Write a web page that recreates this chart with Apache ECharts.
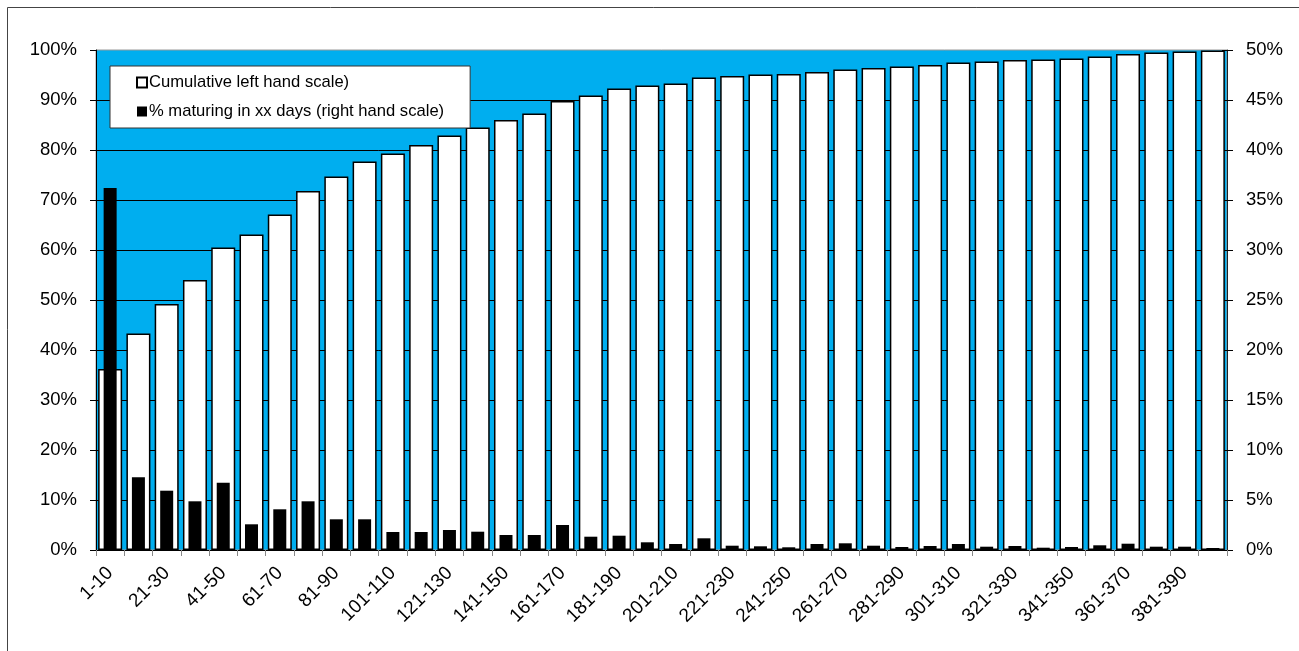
<!DOCTYPE html>
<html>
<head>
<meta charset="utf-8">
<script src="https://cdn.jsdelivr.net/npm/echarts@6/dist/echarts.min.js"></script>
<style>
html,body{margin:0;padding:0;background:#fff;}
#chart{width:1299px;height:651px;}
</style>
</head>
<body>
<div id="chart"></div>
<script>
const categories = ['1-10','11-20','21-30','31-40','41-50','51-60','61-70','71-80','81-90','91-100',
  '101-110','111-120','121-130','131-140','141-150','151-160','161-170','171-180','181-190','191-200',
  '201-210','211-220','221-230','231-240','241-250','251-260','261-270','271-280','281-290','291-300',
  '301-310','311-320','321-330','331-340','341-350','351-360','361-370','371-380','381-390','391-400'];
const cumulative = [36.2,43.3,49.2,54.0,60.5,63.1,67.1,71.8,74.7,77.7,
  79.3,81.0,82.9,84.5,86.0,87.3,89.8,90.9,92.3,92.9,
  93.3,94.5,94.8,95.1,95.2,95.6,96.1,96.4,96.7,97.0,
  97.5,97.7,98.0,98.1,98.3,98.7,99.2,99.5,99.7,99.9];
const maturing = [36.2,7.27,5.93,4.87,6.73,2.57,4.07,4.87,3.07,3.07,
  1.8,1.8,2.0,1.83,1.5,1.5,2.5,1.33,1.43,0.77,
  0.6,1.17,0.43,0.37,0.27,0.6,0.67,0.43,0.3,0.4,
  0.6,0.33,0.4,0.23,0.3,0.47,0.63,0.33,0.33,0.2];
const leftTicks = {min:0, max:100, interval:10};
const rightTicks = {min:0, max:50, interval:5};

const chart = echarts.init(document.getElementById('chart'), null, {renderer:'canvas'});
const font = 'Liberation Sans, Arial, sans-serif';
chart.setOption({
  animation:false,
  backgroundColor:'#fff',
  graphic:[{type:'rect', shape:{x:7.5,y:7.5,width:1400,height:700}, style:{fill:'none',stroke:'#444',lineWidth:1}, silent:true, z:-10}],
  grid:{left:96,right:72,top:50,bottom:101,show:true,backgroundColor:'#00AEEF',borderColor:'#999',borderWidth:1},
  legend:{
    orient:'vertical', left:110, top:66,
    backgroundColor:'#fff', borderColor:'#333', borderWidth:1,
    padding:[8,26,8,26], itemGap:12, itemWidth:10, itemHeight:10, icon:'rect',
    textStyle:{fontFamily:font,fontSize:16.6,color:'#000',padding:[0,0,0,-3]},
    data:['Cumulative left hand scale)','% maturing in xx days (right hand scale)']
  },
  xAxis:[{
    type:'category', data:categories, boundaryGap:true,
    axisLine:{show:true,lineStyle:{color:'#000',width:1}},
    axisTick:{show:true,interval:0,length:6,lineStyle:{color:'#888'}},
    axisLabel:{interval:1,rotate:45,fontFamily:font,fontSize:19,color:'#000',margin:20},
    splitLine:{show:false}
  },{
    type:'category', data:categories, show:false
  }],
  yAxis:[{
    type:'value', position:'left', min:leftTicks.min, max:leftTicks.max, interval:leftTicks.interval,
    axisLine:{show:true,lineStyle:{color:'#000'}},
    axisTick:{show:true,length:6,lineStyle:{color:'#000'}},
    axisLabel:{formatter:'{value}%',fontFamily:font,fontSize:18.5,color:'#000',margin:19},
    splitLine:{show:true,showMaxLine:false,lineStyle:{color:'#000',width:1}}
  },{
    type:'value', position:'right', min:rightTicks.min, max:rightTicks.max, interval:rightTicks.interval,
    axisLine:{show:true,lineStyle:{color:'#222'}},
    axisTick:{show:true,length:6,lineStyle:{color:'#000'}},
    axisLabel:{formatter:'{value}%',fontFamily:font,fontSize:18.5,color:'#000',margin:19},
    splitLine:{show:false}
  },{
    type:'value', position:'right', min:rightTicks.min, max:rightTicks.max, interval:rightTicks.interval,
    axisLine:{show:false},
    axisTick:{show:true,inside:true,length:5,lineStyle:{color:'#000'}},
    axisLabel:{show:false},
    splitLine:{show:false}
  }],
  series:[{
    name:'Cumulative left hand scale)', type:'bar', xAxisIndex:0, yAxisIndex:0,
    data:cumulative, barWidth:24,
    itemStyle:{color:'#fff',borderColor:'#000',borderWidth:1.5}
  },{
    name:'% maturing in xx days (right hand scale)', type:'bar', xAxisIndex:1, yAxisIndex:1,
    data:maturing, barWidth:13, z:3,
    itemStyle:{color:'#000'}
  }]
});
</script>
</body>
</html>
